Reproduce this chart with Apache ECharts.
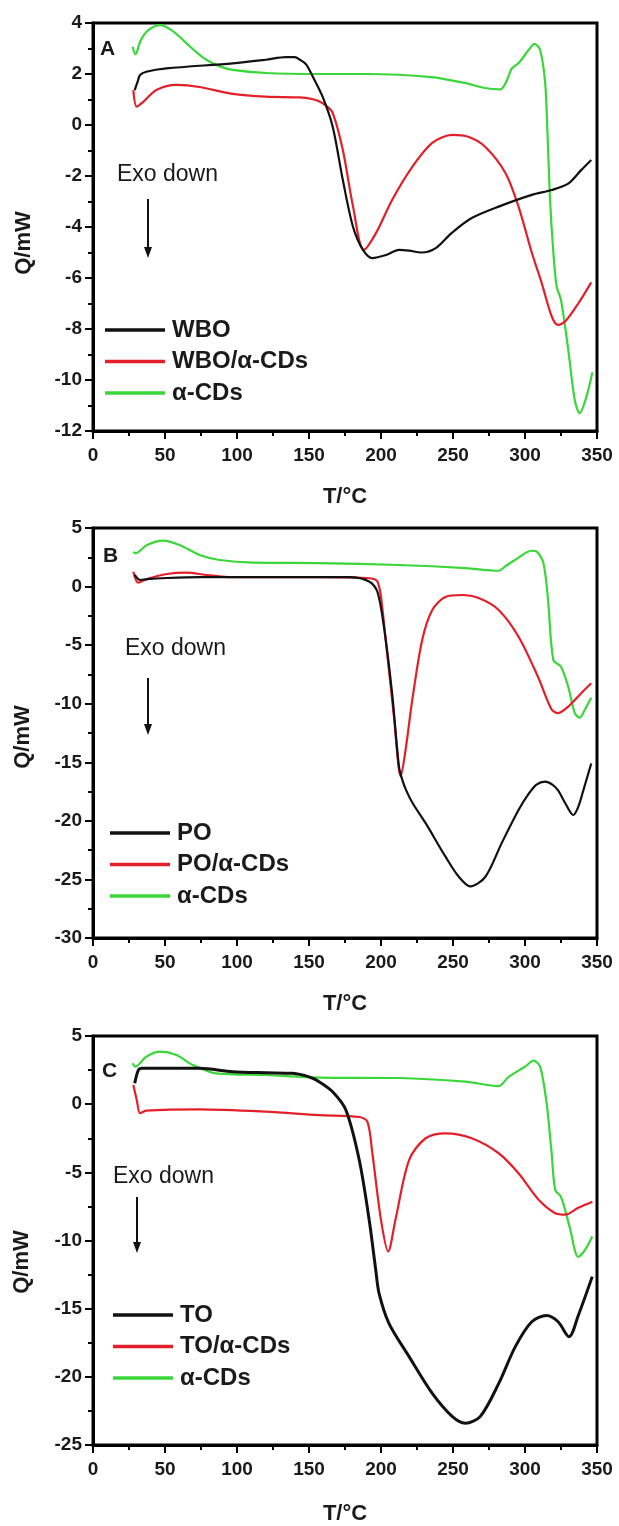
<!DOCTYPE html>
<html>
<head>
<meta charset="utf-8">
<script src="https://cdn.jsdelivr.net/npm/echarts@6/dist/echarts.min.js"></script>
<style>html,body{margin:0;padding:0;background:#fff;}#c{width:619px;height:1526px;}</style>
</head>
<body>
<div id="c"></div>
<script>
// ---- Data (T/°C, Q/mW) ----
// Panel A
var wboA = [[29,1.37],[31,1.7],[32.7,1.96],[37,2.09],[51,2.22],[97,2.42],[120,2.56],[134,2.66],[140,2.66],[144,2.55],[148,2.38],[152.6,1.9],[159.5,1.1],[166.5,-0.08],[173.5,-2.16],[180.6,-4.0],[187.5,-4.9],[194,-5.22],[203.5,-5.1],[212.5,-4.9],[219.5,-4.93],[228.5,-5.0],[238,-4.83],[249,-4.24],[263,-3.65],[281.7,-3.2],[304.7,-2.74],[318.5,-2.55],[330,-2.3],[339,-1.77],[346,-1.37]];
var wboCdA = [[28,1.37],[30.4,0.72],[35,0.91],[44,1.37],[58,1.57],[74,1.49],[97,1.22],[120,1.11],[143.5,1.08],[152,1.02],[157,0.93],[162,0.75],[166.5,0.47],[173.5,-0.98],[180.6,-3.2],[188,-4.9],[196.5,-4.24],[207.7,-2.94],[221.6,-1.65],[235.6,-0.7],[249.5,-0.39],[261,-0.47],[272.5,-0.86],[286.4,-1.88],[295.5,-3.2],[304.7,-5.0],[311.6,-6.2],[318.5,-7.5],[323,-7.84],[328,-7.7],[337,-7.0],[346,-6.17]];
var cdA = [[27.5,3.07],[29.5,2.77],[33,3.3],[38,3.7],[46.7,3.92],[55,3.7],[65,3.2],[72,2.85],[79,2.55],[88,2.3],[97,2.16],[120,2.04],[157,2.0],[190,2.0],[235,1.88],[258,1.65],[272,1.45],[283,1.4],[287,1.7],[291,2.23],[295.5,2.42],[302.5,2.94],[306.6,3.18],[310.5,2.94],[314,1.65],[315.6,-0.3],[317.4,-2.94],[319.7,-5.0],[322,-6.34],[325,-6.86],[330,-8.8],[334.6,-10.8],[338,-11.3],[342.6,-10.67],[346.8,-9.7]];
// Panel B
var poB = [[29,1.0],[32.7,0.56],[37.5,0.64],[51.3,0.73],[74,0.8],[178,0.8],[192,0.42],[197.5,-0.44],[202,-3.4],[207.7,-9.1],[212.5,-15.4],[214.8,-16.5],[217.5,-17.4],[222,-18.5],[231,-20.2],[244.8,-23.06],[254,-24.77],[262,-25.6],[272.5,-24.77],[283.8,-21.9],[295.5,-19.07],[302.5,-17.7],[308,-16.9],[314,-16.65],[319,-16.9],[323,-17.4],[328,-18.5],[333.5,-19.5],[337,-18.8],[340.5,-17.4],[346,-15.1]];
var poCdB = [[28,1.27],[31.4,0.33],[37.5,0.64],[51.3,1.07],[65,1.19],[79,0.99],[97,0.8],[157,0.8],[190,0.73],[196,0.6],[198,0.3],[200,-0.86],[204,-5.4],[209,-11.1],[213.7,-16.2],[217,-14],[221.7,-9.7],[228.6,-4.56],[235.6,-2.0],[245,-0.86],[256,-0.72],[267.8,-0.98],[281.7,-2.0],[295.5,-4.28],[309,-7.7],[318.5,-10.5],[323,-10.8],[330,-10.25],[339,-9.1],[346,-8.25]];
var cdB = [[28,2.98],[29.5,2.85],[37.5,3.55],[48.7,3.92],[60,3.55],[74,2.7],[88,2.27],[111,2.04],[157,2.0],[212.5,1.84],[258.7,1.58],[281.7,1.35],[286,1.7],[293,2.27],[304.7,3.06],[308,3.0],[312.8,2.0],[316,-1.15],[319.7,-6.27],[325,-6.84],[330,-8.55],[334.6,-10.8],[338,-11.2],[341.6,-10.5],[346,-9.5]];
// Panel C
var toC = [[29,1.53],[31.5,2.5],[34,2.63],[74,2.63],[97,2.38],[120,2.3],[138.6,2.26],[150,2.0],[157,1.65],[166.4,0.91],[175.6,-0.43],[184.9,-4.1],[191.8,-8.5],[196.4,-12.2],[198.7,-13.9],[205.6,-16.1],[219.4,-18.5],[235.5,-21.2],[249.4,-22.9],[258.6,-23.4],[269,-22.9],[281.7,-20.5],[293.2,-17.8],[304.7,-15.96],[315,-15.5],[323,-15.96],[330.6,-17.06],[337,-15.5],[346.7,-12.65]];
var toCdC = [[28,1.4],[30.4,0.3],[32.7,-0.66],[37,-0.48],[74,-0.38],[120,-0.55],[157,-0.8],[185,-0.94],[190.6,-1.3],[194,-3.6],[200,-8.5],[205,-10.8],[210,-8.5],[219.5,-4.1],[231,-2.5],[244.8,-2.14],[263,-2.5],[281.7,-3.6],[295.5,-5.07],[309.3,-7.0],[321,-8.0],[328,-8.1],[337,-7.6],[346.8,-7.15]];
var cdC = [[27.5,3.0],[29.5,2.75],[37,3.48],[46.5,3.85],[58,3.6],[69.4,2.87],[85.5,2.26],[120,2.14],[157,1.95],[212.5,1.92],[258.5,1.65],[281.7,1.33],[288.6,2.0],[300,2.75],[305.9,3.19],[310.5,2.75],[315,0.08],[318.5,-3.6],[321,-6.3],[325,-6.8],[331,-9.0],[337,-11.2],[341.6,-10.7],[346.7,-9.7]];

var yRanges = [[-12,4,2],[-30,5,5],[-25,5,5]];
var panelLetters = ['A','B','C'];
var legendNames = [['WBO','WBO/α-CDs','α-CDs'],['PO','PO/α-CDs','α-CDs'],['TO','TO/α-CDs','α-CDs']];
var panelData = [[wboA,wboCdA,cdA],[poB,poCdB,cdB],[toC,toCdC,cdC]];

// ---- Layout ----
var FONT = 'Liberation Sans, Arial, sans-serif';
var BLACK = '#111111', RED = '#e3202a', GREEN = '#3ad63a';
var colors = [BLACK, RED, GREEN];
var grids = [{top:23,height:408},{top:528,height:410},{top:1036,height:409}];
var legendTops = [318,821,1303];
var legendLefts = [105,110,113];
var letterPos = [[100,50],[103,557],[102,1072]];
var exoPos = [[117,175],[125,649],[113,1177]];
var arrowPos = [[148,199,258],[148,678,735],[137,1197,1253]];
var qPos = [[24,243],[23,737],[22,1262]];

var chart = echarts.init(document.getElementById('c'), null, {renderer:'canvas'});

var option = {
  backgroundColor:'#fff',
  animation:false,
  grid:[], xAxis:[], yAxis:[], series:[], legend:[], graphic:[]
};

for (var p=0;p<3;p++){
  option.grid.push({left:93, right:22, top:grids[p].top, height:grids[p].height, show:true, borderColor:'#000', borderWidth:3});
  option.xAxis.push({
    type:'value', gridIndex:p, min:0, max:350, interval:50,
    axisLine:{show:true, onZero:false, lineStyle:{color:'#000', width:3}},
    axisTick:{show:true, length:8, lineStyle:{color:'#000', width:2}},
    minorTick:{show:true, splitNumber:2, length:5, lineStyle:{color:'#000', width:2}},
    splitLine:{show:false},
    axisLabel:{fontFamily:FONT, fontSize:19, fontWeight:'bold', color:'#1a1a1a', margin:15},
    name:'T/°C', nameLocation:'middle', nameGap: p===2?58:55,
    nameTextStyle:{fontFamily:FONT, fontSize:22, fontWeight:'bold', color:'#1a1a1a'}
  });
  option.yAxis.push({
    type:'value', gridIndex:p, min:yRanges[p][0], max:yRanges[p][1], interval:yRanges[p][2],
    axisLine:{show:true, onZero:false, lineStyle:{color:'#000', width:3}},
    axisTick:{show:true, length:8, lineStyle:{color:'#000', width:2}},
    minorTick:{show:true, splitNumber:2, length:5, lineStyle:{color:'#000', width:2}},
    splitLine:{show:false},
    axisLabel:{fontFamily:FONT, fontSize:19, fontWeight:'bold', color:'#1a1a1a', margin:11}
  });
  var names = legendNames[p];
  for (var s=0;s<3;s++){
    option.series.push({
      name:names[s], type:'line', xAxisIndex:p, yAxisIndex:p,
      data:panelData[p][s], symbol:'none', showSymbol:false, smooth:0.3,
      lineStyle:{color:colors[s], width:(p===2 && s===0)?3:2.2},
      itemStyle:{color:colors[s]}, z: 3-s
    });
  }
  option.legend.push({
    data:names, orient:'vertical', left:legendLefts[p], top:legendTops[p], padding:0,
    icon:'rect', itemWidth:60, itemHeight:3.5, itemGap:7.5, selectedMode:false,
    textStyle:{fontFamily:FONT, fontSize:24, fontWeight:'bold', color:'#1a1a1a', lineHeight:24, padding:[0,0,0,2]}
  });
  option.graphic.push({
    type:'text', left:letterPos[p][0], top:letterPos[p][1]-11,
    style:{text:panelLetters[p], fontFamily:FONT, fontSize:21, fontWeight:'bold', fill:'#1a1a1a'}
  });
  option.graphic.push({
    type:'text', left:exoPos[p][0], top:exoPos[p][1]-12,
    style:{text:'Exo down', fontFamily:FONT, fontSize:23, fill:'#1a1a1a'}
  });
  var ax = arrowPos[p];
  option.graphic.push({
    type:'line', shape:{x1:ax[0], y1:ax[1], x2:ax[0], y2:ax[2]-8},
    style:{stroke:'#111', lineWidth:2}
  });
  option.graphic.push({
    type:'polygon', shape:{points:[[ax[0]-4,ax[2]-11],[ax[0]+4,ax[2]-11],[ax[0],ax[2]]]},
    style:{fill:'#111'}
  });
  option.graphic.push({
    type:'text', x:qPos[p][0], y:qPos[p][1], rotation:Math.PI/2,
    style:{text:'Q/mW', fontFamily:FONT, fontSize:22, fontWeight:'bold', fill:'#1a1a1a', align:'center', verticalAlign:'middle'}
  });
}

chart.setOption(option);
</script>
</body>
</html>
